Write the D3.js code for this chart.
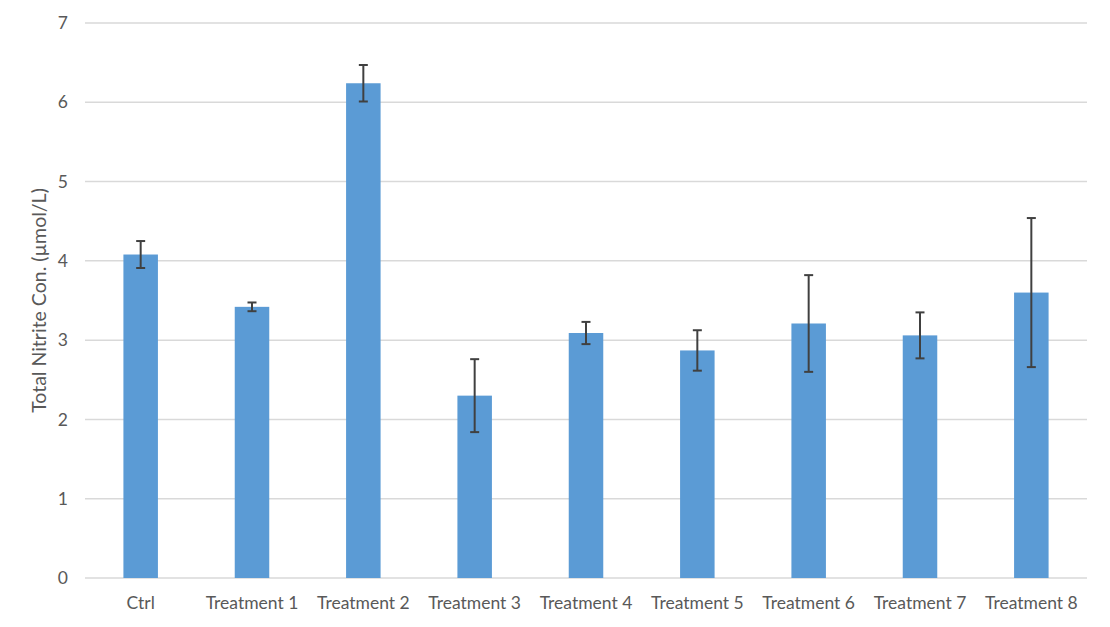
<!DOCTYPE html>
<html>
<head>
<meta charset="utf-8">
<script src="https://cdn.jsdelivr.net/npm/d3@7"></script>
<style>
  body { margin: 0; background: #fff; }
  text { font-family: Lato, "Open Sans", sans-serif; fill: #595959; }
</style>
</head>
<body>
<script>
// chart size
const width = 1110;
const height = 627;
const margin = {top: 23, right: 23, bottom: 49, left: 85};

// data
const categories = ["Ctrl", "Treatment 1", "Treatment 2", "Treatment 3", "Treatment 4",
                    "Treatment 5", "Treatment 6", "Treatment 7", "Treatment 8"];
const means = [4.08, 3.42, 6.24, 2.30, 3.09, 2.87, 3.21, 3.06, 3.60];
const errors = [0.17, 0.055, 0.23, 0.46, 0.14, 0.255, 0.61, 0.29, 0.94];
const yTicks = [0, 1, 2, 3, 4, 5, 6, 7];

const data = categories.map((c, i) => ({name: c, value: means[i], err: errors[i]}));

const x = d3.scaleBand()
    .domain(categories)
    .range([margin.left, width - margin.right])
    .paddingInner(0.69)
    .paddingOuter(0.345);

const y = d3.scaleLinear()
    .domain([0, 7])
    .range([height - margin.bottom, margin.top]);

const svg = d3.select("body").append("svg")
    .attr("width", width)
    .attr("height", height);

// grid lines
svg.append("g")
    .selectAll("line")
    .data(yTicks)
    .join("line")
    .attr("x1", margin.left)
    .attr("x2", width - margin.right)
    .attr("y1", d => y(d))
    .attr("y2", d => y(d))
    .attr("stroke", "#d9d9d9")
    .attr("stroke-width", 1.5);

// y axis labels
const yAxis = g => g
    .attr("transform", `translate(${margin.left},0)`)
    .call(d3.axisLeft(y).tickValues(yTicks).tickFormat(d3.format("d")).tickSize(0).tickPadding(17))
    .call(g => g.select(".domain").remove())
    .call(g => g.selectAll("text").attr("font-size", "17.5px").attr("fill", "#595959")
        .style("font-family", "Lato, 'Open Sans', sans-serif"));
svg.append("g").call(yAxis);

// x axis labels
const xAxis = g => g
    .attr("transform", `translate(0,${height - margin.bottom})`)
    .call(d3.axisBottom(x).tickSize(0).tickPadding(19))
    .call(g => g.select(".domain").remove())
    .call(g => g.selectAll("text").attr("font-size", "17.5px").attr("fill", "#595959")
        .style("font-family", "Lato, 'Open Sans', sans-serif"));
svg.append("g").call(xAxis);

// bars
svg.append("g")
    .selectAll("rect")
    .data(data)
    .join("rect")
    .attr("x", d => x(d.name))
    .attr("width", x.bandwidth())
    .attr("y", d => y(d.value))
    .attr("height", d => y(0) - y(d.value))
    .attr("fill", "#5b9bd5");

// error bars
const eb = svg.append("g")
    .attr("stroke", "#404040")
    .attr("stroke-width", 2)
    .selectAll("g")
    .data(data)
    .join("g")
    .attr("transform", d => `translate(${x(d.name) + x.bandwidth() / 2},0)`);
eb.append("line")
    .attr("y1", d => y(d.value - d.err))
    .attr("y2", d => y(d.value + d.err));
eb.append("line")
    .attr("x1", -4.5).attr("x2", 4.5)
    .attr("y1", d => y(d.value + d.err))
    .attr("y2", d => y(d.value + d.err));
eb.append("line")
    .attr("x1", -4.5).attr("x2", 4.5)
    .attr("y1", d => y(d.value - d.err))
    .attr("y2", d => y(d.value - d.err));

// y axis title
svg.append("text")
    .attr("transform", `translate(46,${(margin.top + height - margin.bottom) / 2}) rotate(-90)`)
    .attr("text-anchor", "middle")
    .attr("font-size", "19.5px")
    .text("Total Nitrite Con. (µmol/L)");
</script>
</body>
</html>
